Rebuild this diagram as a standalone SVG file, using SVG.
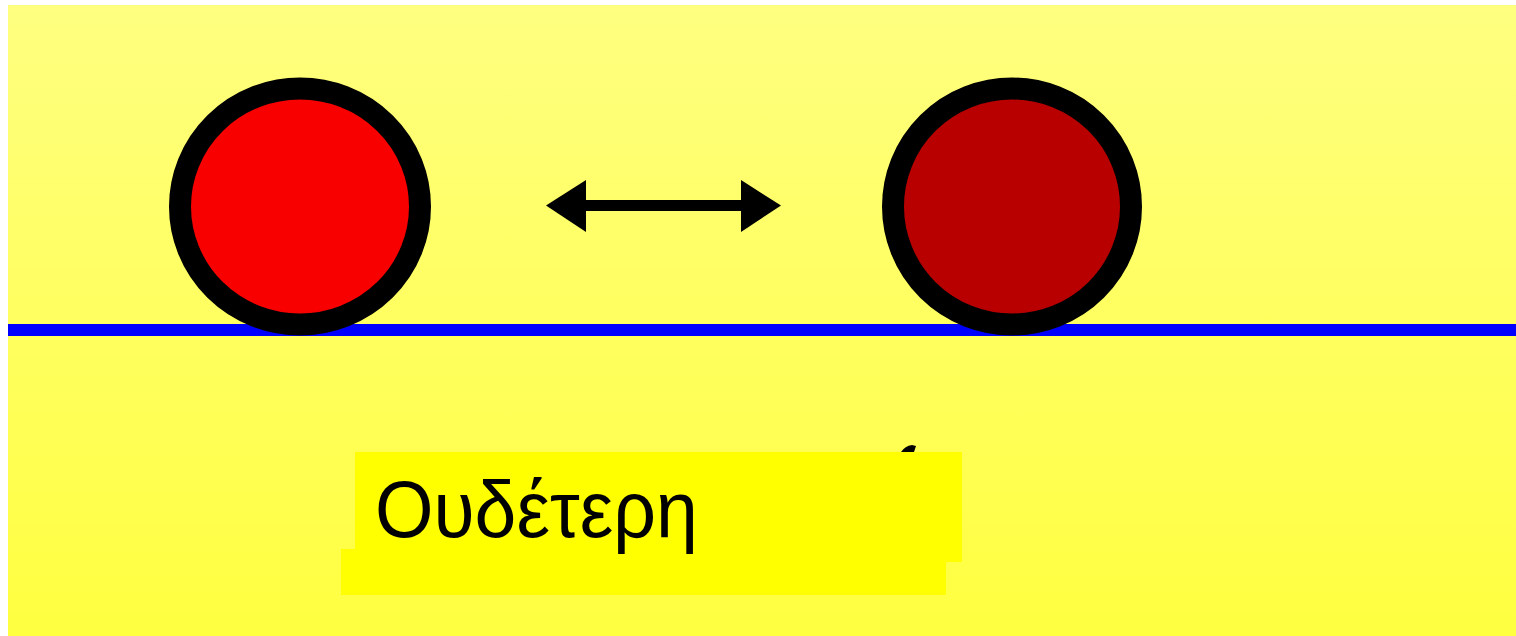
<svg xmlns="http://www.w3.org/2000/svg" width="1516" height="636" viewBox="0 0 1516 636">
  <defs>
    <linearGradient id="bg" x1="0" y1="0" x2="0" y2="1">
      <stop offset="0" stop-color="#FFFF80"/>
      <stop offset="1" stop-color="#FFFF40"/>
    </linearGradient>
    <style>
      .ball { stroke: #000; stroke-width: 22; }
      .box { fill: #FFFF00; }
      .lbl { font-family: "Liberation Sans", Arial, sans-serif; font-size: 80px; fill: #000; }
    </style>
  </defs>
  <rect x="0" y="0" width="1516" height="636" fill="#FFFFFF"/>
  <rect x="8" y="5" width="1508" height="631" fill="url(#bg)"/>
  <rect id="surface" x="8" y="324" width="1508" height="12" fill="#0000FF"/>
  <g id="ball1">
    <ellipse class="ball" cx="300" cy="206.5" rx="120" ry="118" fill="#F80000"/>
  </g>
  <g id="ball2">
    <ellipse class="ball" cx="1012" cy="206.5" rx="119" ry="118" fill="#B80000"/>
  </g>
  <g id="connectors">
    <rect x="584" y="200" width="160" height="11" fill="#000"/>
    <polygon points="546,205.5 586,180 586,232" fill="#000"/>
    <polygon points="781,205.5 741,180 741,232" fill="#000"/>
  </g>
  <g id="label">
    <path d="M901,452 Q905,446 912,445 L916,446 L914,452 Z" fill="#000"/>
    <rect class="box" x="341" y="549" width="605" height="46"/>
    <rect class="box" x="355" y="452" width="607" height="110"/>
    <text class="lbl" transform="translate(375,537) scale(0.94,1)">Ουδέτερη</text>
  </g>
</svg>
